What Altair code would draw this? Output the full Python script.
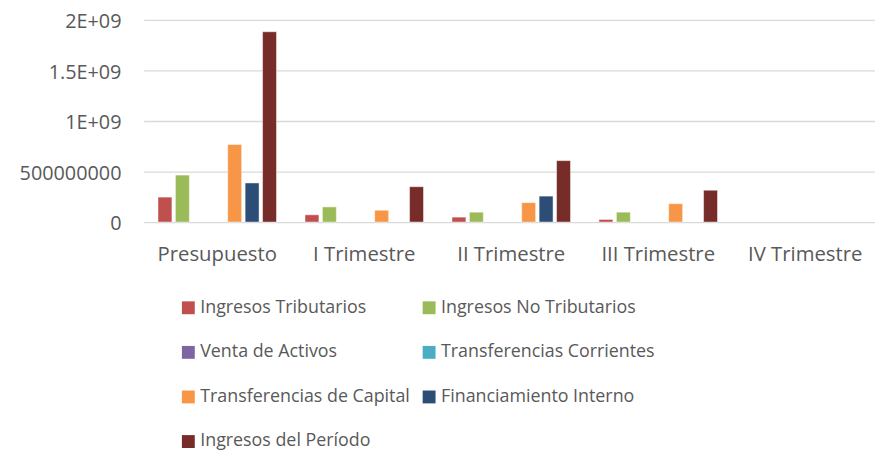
import altair as alt
import pandas as pd

categories = ["Presupuesto", "I Trimestre", "II Trimestre", "III Trimestre", "IV Trimestre"]
series = [
    "Ingresos Tributarios",
    "Ingresos No Tributarios",
    "Venta de Activos",
    "Transferencias Corrientes",
    "Transferencias de Capital",
    "Financiamiento Interno",
    "Ingresos del Período",
]
colors = ["#C0504D", "#9BBB59", "#8064A2", "#4BACC6", "#F79646", "#2C4D75", "#772C2A"]

ingresos_tributarios = [247000000, 72000000, 49000000, 26000000, 0]
ingresos_no_tributarios = [465000000, 150000000, 98000000, 98000000, 0]
venta_de_activos = [0, 0, 0, 0, 0]
transferencias_corrientes = [0, 0, 0, 0, 0]
transferencias_de_capital = [768000000, 117000000, 192000000, 182000000, 0]
financiamiento_interno = [387000000, 0, 257000000, 0, 0]
ingresos_del_periodo = [1883000000, 350000000, 608000000, 315000000, 0]

y_ticks = [0, 500000000, 1000000000, 1500000000, 2000000000]
y_labels = ["0", "500000000", "1E+09", "1.5E+09", "2E+09"]

all_values = [
    ingresos_tributarios,
    ingresos_no_tributarios,
    venta_de_activos,
    transferencias_corrientes,
    transferencias_de_capital,
    financiamiento_interno,
    ingresos_del_periodo,
]
rows = []
for s, vals in zip(series, all_values):
    for c, v in zip(categories, vals):
        rows.append({"categoria": c, "serie": s, "valor": v})
df = pd.DataFrame(rows)

label_expr = " : ".join(
    f"datum.value == {t} ? '{l}'" for t, l in zip(y_ticks, y_labels)
) + " : ''"

FONT = "Open Sans"
GREY = "#595959"

chart = (
    alt.Chart(df)
    .mark_bar(stroke="white", strokeOpacity=0.6)
    .encode(
        x=alt.X(
            "categoria:N",
            sort=categories,
            scale=alt.Scale(paddingInner=0.17, paddingOuter=0.085, range=[0, 741.75]),
            axis=alt.Axis(
                title=None, labelAngle=0, domain=False, ticks=False, grid=False,
                labelPadding=23, labelFontSize=20.5, labelFont=FONT, labelColor=GREY,
            ),
        ),
        xOffset=alt.XOffset(
            "serie:N", sort=series,
            scale=alt.Scale(domain=series, paddingInner=0.2, paddingOuter=0.1),
        ),
        y=alt.Y(
            "valor:Q",
            scale=alt.Scale(domain=[0, 2000000000], nice=False),
            axis=alt.Axis(
                title=None, values=y_ticks, labelExpr=label_expr, domain=False,
                ticks=False, tickSize=0, labelPadding=23, labelOffset=2,
                gridColor="#D9D9D9", gridWidth=1.3,
                labelFontSize=20, labelFont=FONT, labelColor=GREY,
            ),
        ),
        color=alt.Color(
            "serie:N",
            sort=series,
            scale=alt.Scale(domain=series, range=colors),
            legend=alt.Legend(
                title=None, orient="none", legendX=36, legendY=281.5, columns=2,
                direction="horizontal",
                symbolType="square", symbolSize=169, symbolStrokeWidth=0,
                labelFontSize=18, labelFont=FONT, labelColor=GREY, labelLimit=300,
                rowPadding=27, columnPadding=10, labelOffset=3, padding=0,
            ),
        ),
        strokeWidth=alt.condition("datum.valor > 0", alt.value(0.8), alt.value(0)),
    )
    .properties(
        width=738,
        height=204,
        padding={"left": 137, "top": 10, "right": 0, "bottom": 229},
        autosize="none",
    )
    .configure_view(stroke=None)
)

chart.save("out.html", embed_options={"renderer": "svg", "actions": False})
